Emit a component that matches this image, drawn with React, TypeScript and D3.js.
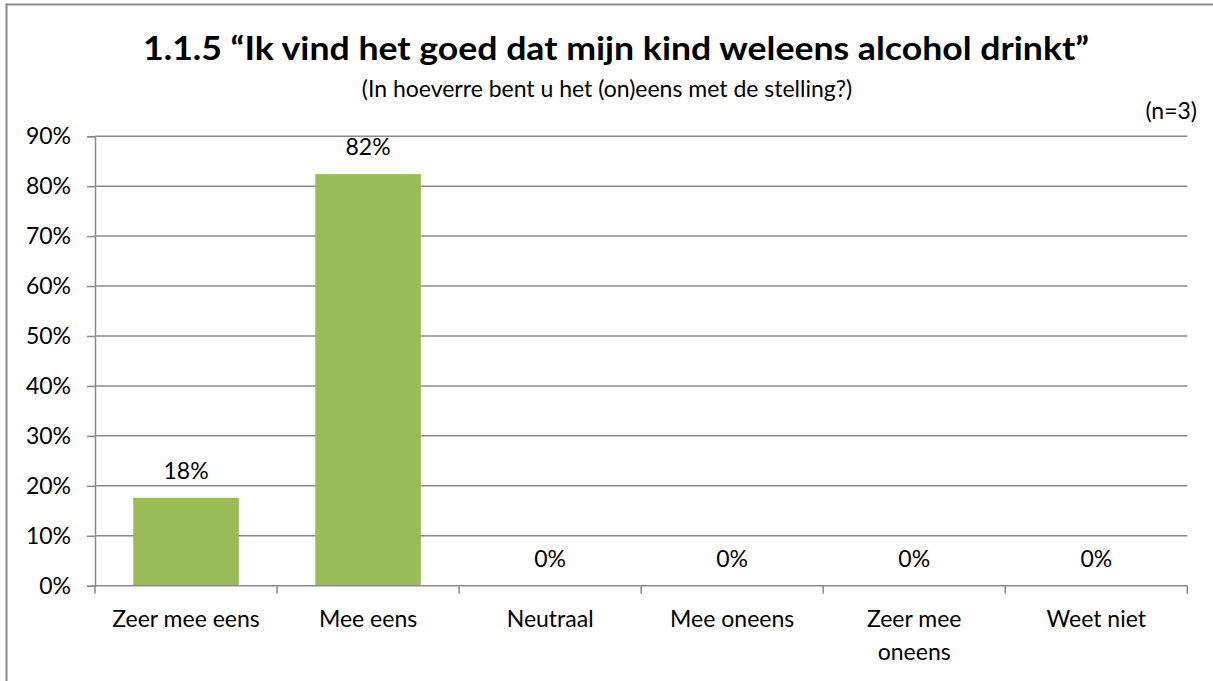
import React, { useEffect, useRef } from "react";
import * as d3 from "d3";

const categories = ["Zeer mee eens", "Mee eens", "Neutraal", "Mee oneens", "Zeer mee oneens", "Weet niet"];
const values = [0.176, 0.824, 0, 0, 0, 0];
const yTicks = [0, 0.1, 0.2, 0.3, 0.4, 0.5, 0.6, 0.7, 0.8, 0.9];

const title = "1.1.5 \u201cIk vind het goed dat mijn kind weleens alcohol drinkt\u201d";
const subtitle = "(In hoeverre bent u het (on)eens met de stelling?)";
const note = "(n=3)";

const W = 1213;
const H = 681;
const FONT = "Lato, 'Open Sans', sans-serif";
const FS = 23;

const App = () => {
  const svgRef = useRef<SVGSVGElement>(null);

  useEffect(() => {
    document.body.style.margin = "0";
    document.body.style.overflow = "hidden";
    document.documentElement.style.overflow = "hidden";

    const svg = d3.select(svgRef.current);
    svg.selectAll("*").remove();

    const left = 95;
    const right = 1187.3;
    const top = 136.2;
    const bottom = 585.7;

    const xCat = d3.scaleBand<string>().domain(categories).range([left, right]).padding(0);
    const xBar = d3
      .scaleBand<string>()
      .domain(categories)
      .range([left, right])
      .paddingInner(0.42)
      .paddingOuter(0.21);
    const y = d3.scaleLinear().domain([0, 0.9]).range([bottom, top]);

    // frame (only left and top edges are inside the picture)
    svg
      .append("path")
      .attr("d", `M6.5,${H}V4.5H${W}`)
      .attr("fill", "none")
      .attr("stroke", "#8a8a8a")
      .attr("stroke-width", 2);

    // titles
    svg
      .append("text")
      .attr("x", 616)
      .attr("y", 60)
      .attr("text-anchor", "middle")
      .attr("font-family", FONT)
      .attr("font-weight", "bold")
      .attr("font-size", 32)
      .attr("textLength", 946)
      .attr("lengthAdjust", "spacingAndGlyphs")
      .attr("fill", "#000")
      .text(title);

    svg
      .append("text")
      .attr("x", 607)
      .attr("y", 97)
      .attr("text-anchor", "middle")
      .attr("font-family", FONT)
      .attr("font-size", FS)
      .attr("fill", "#000")
      .text(subtitle);

    svg
      .append("text")
      .attr("x", 1197)
      .attr("y", 119)
      .attr("text-anchor", "end")
      .attr("font-family", FONT)
      .attr("font-size", FS)
      .attr("fill", "#000")
      .text(note);

    // gridlines
    svg
      .append("g")
      .selectAll("line")
      .data(yTicks.filter((t) => t > 0))
      .join("line")
      .attr("x1", left)
      .attr("x2", right)
      .attr("y1", (d) => y(d))
      .attr("y2", (d) => y(d))
      .attr("stroke", "#8a8a8a")
      .attr("stroke-width", 1.5);

    // y axis
    const yAxis = d3
      .axisLeft(y)
      .tickValues(yTicks)
      .tickSize(8)
      .tickPadding(16)
      .tickFormat(d3.format(".0%"));
    const gy = svg.append("g").attr("transform", `translate(${left},0)`).call(yAxis);
    gy.selectAll("path, line").attr("stroke", "#8a8a8a").attr("stroke-width", 1.5);
    gy.selectAll("text")
      .attr("font-family", FONT)
      .attr("font-size", FS)
      .attr("fill", "#000");

    // bars
    svg
      .append("g")
      .selectAll("rect")
      .data(values)
      .join("rect")
      .attr("x", (_, i) => xBar(categories[i])!)
      .attr("y", (d) => y(d))
      .attr("width", xBar.bandwidth())
      .attr("height", (d) => bottom - y(d))
      .attr("fill", "#9bbb59");

    // data labels
    svg
      .append("g")
      .selectAll("text")
      .data(values)
      .join("text")
      .attr("x", (_, i) => xBar(categories[i])! + xBar.bandwidth() / 2)
      .attr("y", (d) => y(d) - 19)
      .attr("text-anchor", "middle")
      .attr("font-family", FONT)
      .attr("font-size", FS)
      .attr("fill", "#000")
      .text((d) => d3.format(".0%")(d));

    // x axis
    const gx = svg.append("g");
    gx.append("line")
      .attr("x1", left)
      .attr("x2", right)
      .attr("y1", bottom)
      .attr("y2", bottom)
      .attr("stroke", "#8a8a8a")
      .attr("stroke-width", 1.5);
    const tickXs = categories.map((c) => xCat(c)!).concat([right]);
    gx.selectAll(".tick")
      .data(tickXs)
      .join("line")
      .attr("class", "tick")
      .attr("x1", (d) => d)
      .attr("x2", (d) => d)
      .attr("y1", bottom)
      .attr("y2", bottom + 8)
      .attr("stroke", "#8a8a8a")
      .attr("stroke-width", 1.5);

    const labels = gx
      .selectAll(".lbl")
      .data(categories)
      .join("text")
      .attr("class", "lbl")
      .attr("x", (d) => xCat(d)! + xCat.bandwidth() / 2)
      .attr("y", 627)
      .attr("text-anchor", "middle")
      .attr("font-family", FONT)
      .attr("font-size", FS)
      .attr("fill", "#000")
      .text((d) => d);

    // wrap long labels
    const maxW = 162;
    labels.each(function () {
      const t = d3.select(this);
      const words = t.text().split(" ");
      const cx = t.attr("x");
      t.text(null);
      let line: string[] = [];
      let tspan = t.append("tspan").attr("x", cx).attr("dy", 0);
      words.forEach((w) => {
        line.push(w);
        tspan.text(line.join(" "));
        if ((tspan.node() as SVGTSpanElement).getComputedTextLength() > maxW && line.length > 1) {
          line.pop();
          tspan.text(line.join(" "));
          line = [w];
          tspan = t.append("tspan").attr("x", cx).attr("dy", 33).text(w);
        }
      });
    });
  }, []);

  return (
    <svg
      ref={svgRef}
      width={W}
      height={H}
      style={{ position: "absolute", left: 0, top: 0, display: "block", background: "white" }}
    />
  );
};

export default App;
